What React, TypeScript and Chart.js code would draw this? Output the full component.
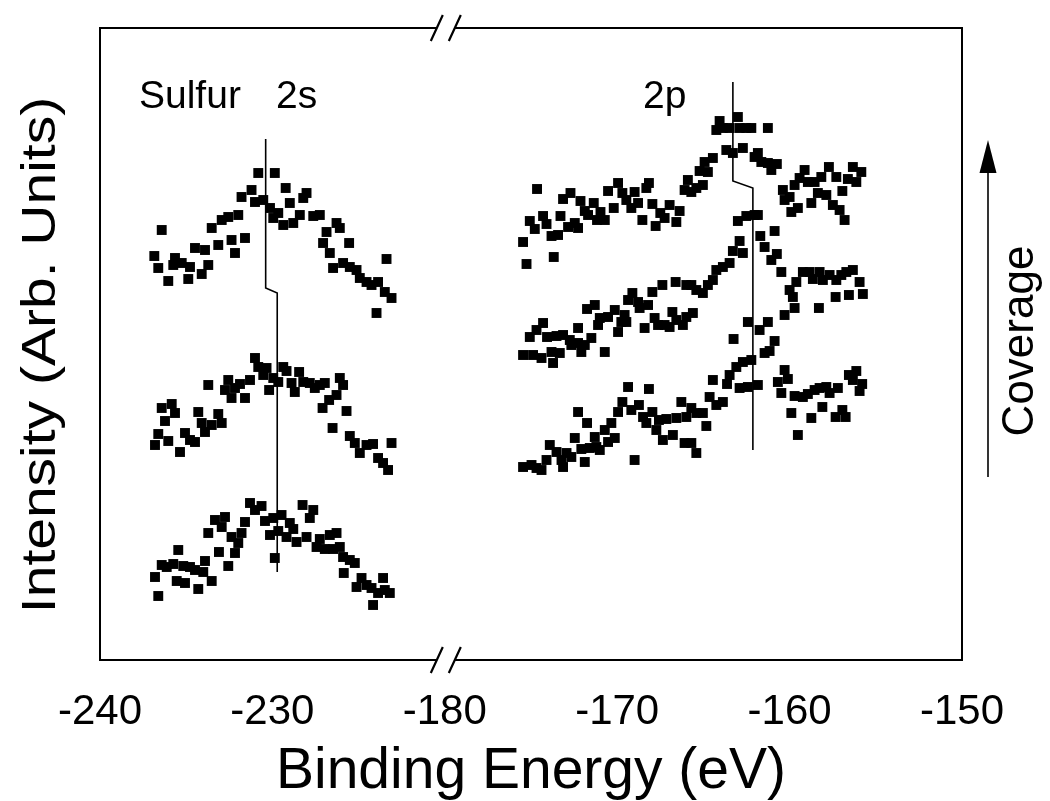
import React, { useEffect, useRef } from 'react';
import { Chart, registerables } from 'chart.js';

Chart.register(...registerables);

// ---- Broken binding-energy axis (eV) ----
const AXIS_MIN = -240;
const BREAK_LOW = -220;
const BREAK_HIGH = -180;
const AXIS_MAX = -150;
const X_TICKS = [-240, -230, -180, -170, -160, -150];
const Y_MIN = 0;
const Y_MAX = 632;

// ---- Sulfur 2s spectra (binding energy eV, intensity arb. units) ----
const S2S_TOP_E = [-236.85, -236.62, -236.42, -236.04, -235.75, -235.65, -235.26, -234.88, -234.78, -234.49, -234.10, -233.91, -233.72, -233.52, -233.14, -232.94, -232.56, -232.37, -232.17, -231.98, -231.59, -231.79, -231.21, -231.01, -230.82, -230.53, -230.14, -229.86, -229.95, -229.66, -229.37, -229.23, -228.99, -228.79, -228.41, -228.21, -228.02, -227.63, -227.25, -226.86, -226.28, -226.09, -227.06, -226.67, -225.55, -226.48, -225.90, -225.51, -225.12, -224.93, -224.54, -224.25, -223.87, -223.38, -223.48, -223.09, -223.96];
const S2S_TOP_I = [404, 392, 430, 379, 395, 402, 397, 381, 393, 412, 386, 410, 395, 432, 415, 440, 443, 420, 407, 445, 422, 463, 470, 458, 487, 460, 452, 487, 442, 447, 435, 472, 457, 437, 445, 462, 467, 444, 445, 428, 437, 432, 417, 407, 417, 392, 397, 393, 390, 382, 378, 375, 378, 401, 368, 362, 347];

const S2S_MID_E = [-236.81, -236.62, -236.42, -236.23, -236.04, -235.84, -235.65, -235.36, -235.07, -234.78, -234.49, -234.30, -234.10, -233.91, -233.72, -233.52, -233.14, -232.94, -232.75, -232.56, -232.37, -232.17, -231.88, -231.59, -231.30, -231.01, -230.82, -230.53, -230.34, -230.19, -229.95, -229.66, -229.37, -229.18, -228.89, -228.70, -228.45, -228.21, -227.83, -227.54, -227.25, -226.96, -227.09, -226.71, -226.28, -226.09, -225.90, -225.70, -226.51, -225.51, -225.22, -224.93, -224.54, -224.16, -223.87, -223.58, -223.29, -223.09];
const S2S_MID_I = [215, 226, 252, 239, 219, 256, 247, 208, 227, 220, 218, 248, 237, 228, 275, 235, 246, 237, 270, 280, 262, 272, 276, 262, 280, 302, 293, 285, 292, 270, 282, 278, 293, 289, 277, 268, 288, 278, 277, 272, 275, 277, 252, 260, 265, 282, 275, 249, 232, 224, 217, 207, 215, 216, 202, 197, 190, 217];

const S2S_BOT_E = [-236.81, -236.62, -236.42, -236.13, -235.75, -235.55, -235.46, -235.17, -235.07, -234.78, -234.49, -234.30, -233.91, -234.01, -233.72, -233.52, -233.33, -233.10, -232.94, -232.75, -232.56, -232.37, -232.17, -231.98, -231.79, -231.59, -231.30, -231.01, -230.63, -230.43, -230.14, -229.95, -229.86, -229.66, -229.47, -229.18, -228.99, -228.79, -228.60, -228.25, -228.02, -227.83, -227.63, -227.44, -227.25, -226.96, -226.67, -226.48, -226.28, -226.09, -225.90, -225.86, -225.51, -225.22, -225.12, -224.83, -224.54, -224.25, -224.16, -223.87, -223.58, -223.48, -223.19];
const S2S_BOT_I = [83, 64, 95, 93, 96, 79, 110, 94, 77, 93, 90, 71, 99, 88, 127, 79, 140, 108, 133, 143, 94, 123, 107, 117, 127, 138, 157, 150, 154, 139, 125, 142, 102, 129, 145, 123, 137, 131, 118, 155, 123, 142, 150, 113, 121, 111, 125, 111, 127, 113, 103, 87, 100, 97, 73, 82, 75, 72, 55, 67, 82, 70, 67];

// ---- Sulfur 2p spectra ----
const S2P_TOP_E = [-175.46, -175.26, -175.07, -174.78, -174.65, -174.30, -174.10, -173.81, -173.68, -173.43, -173.29, -173.14, -172.85, -172.71, -172.46, -172.27, -172.13, -171.88, -171.69, -171.36, -171.17, -170.97, -170.72, -170.53, -170.20, -169.95, -169.70, -169.47, -169.18, -168.99, -168.79, -168.54, -168.31, -168.16, -167.96, -167.77, -167.50, -167.25, -166.96, -166.57, -166.38, -166.09, -165.90, -165.70, -165.41, -165.22, -165.03, -164.93, -164.74, -164.45, -164.25, -164.06, -163.87, -163.67, -163.48, -163.29, -163.00, -162.90, -162.71, -162.51, -162.22, -162.03, -161.84, -161.64, -161.26, -161.26, -161.06, -160.74, -160.39, -160.29, -160.00, -159.90, -159.71, -159.52, -159.42, -159.13, -158.94, -158.74, -158.55, -158.36, -158.16, -157.87, -157.72, -157.49, -157.29, -157.10, -156.94, -156.81, -156.62, -156.33, -156.13, -155.84];
const S2P_TOP_I = [418, 396, 439, 431, 471, 444, 436, 424, 403, 425, 444, 461, 433, 467, 437, 432, 459, 449, 445, 457, 440, 448, 440, 469, 452, 477, 467, 460, 452, 468, 457, 440, 472, 477, 456, 434, 447, 442, 455, 438, 449, 470, 480, 468, 472, 489, 475, 498, 488, 502, 530, 539, 532, 510, 532, 507, 543, 532, 512, 532, 532, 503, 507, 498, 532, 497, 490, 496, 470, 460, 463, 448, 475, 452, 482, 490, 478, 457, 478, 467, 483, 465, 493, 455, 483, 450, 469, 440, 481, 493, 478, 488];

const S2P_MID_E = [-175.46, -175.07, -174.68, -174.88, -174.39, -174.30, -174.07, -173.72, -173.81, -173.33, -173.52, -173.14, -172.75, -172.66, -172.27, -172.27, -172.08, -171.88, -171.50, -171.75, -171.30, -171.11, -171.01, -170.72, -170.53, -170.14, -169.95, -169.76, -169.57, -169.47, -169.37, -169.12, -168.79, -168.70, -168.41, -168.21, -167.96, -167.83, -167.63, -167.38, -167.25, -166.96, -166.80, -166.61, -166.57, -166.19, -165.99, -165.99, -165.70, -165.61, -165.41, -165.03, -164.74, -164.45, -164.25, -163.87, -163.48, -163.29, -162.71, -162.90, -163.00, -162.51, -162.03, -161.84, -161.70, -161.45, -160.87, -161.06, -160.74, -160.48, -160.29, -160.00, -159.81, -159.71, -159.61, -159.23, -158.84, -158.65, -158.30, -158.26, -158.07, -157.68, -157.33, -157.29, -157.00, -156.71, -156.56, -156.33, -155.94, -155.75];
const S2P_MID_I = [305, 323, 330, 305, 302, 337, 323, 297, 308, 307, 324, 325, 320, 315, 332, 317, 308, 315, 322, 351, 355, 335, 342, 308, 343, 350, 328, 338, 345, 338, 360, 367, 358, 352, 332, 355, 368, 342, 335, 375, 335, 333, 348, 378, 340, 335, 375, 343, 375, 347, 370, 367, 375, 380, 390, 393, 397, 409, 407, 419, 439, 444, 445, 445, 424, 413, 429, 400, 406, 388, 345, 370, 363, 352, 378, 388, 388, 381, 352, 388, 380, 385, 363, 380, 385, 388, 365, 390, 378, 366];

const S2P_BOT_E = [-175.46, -174.97, -174.68, -174.39, -174.10, -173.91, -173.52, -173.23, -173.14, -172.94, -172.66, -172.46, -172.27, -172.08, -171.88, -171.75, -171.59, -171.30, -171.21, -171.01, -170.72, -170.53, -170.34, -170.14, -169.95, -169.70, -169.37, -169.18, -168.99, -168.74, -168.50, -168.31, -168.16, -167.96, -167.73, -167.58, -167.35, -167.15, -166.77, -166.57, -166.28, -166.09, -165.99, -165.70, -165.70, -165.41, -165.41, -165.03, -164.83, -164.64, -164.45, -164.25, -163.87, -163.63, -163.48, -163.25, -163.09, -162.90, -162.71, -162.42, -162.42, -162.22, -161.84, -161.74, -161.45, -161.26, -161.16, -160.87, -160.68, -160.48, -160.29, -160.10, -159.90, -159.71, -159.52, -159.23, -158.94, -158.74, -158.55, -158.26, -158.10, -157.87, -157.68, -157.33, -157.20, -156.94, -156.75, -156.56, -156.33, -156.13, -155.94, -155.79];
const S2P_BOT_I = [193, 195, 192, 190, 200, 215, 208, 200, 193, 207, 203, 222, 248, 211, 198, 237, 212, 223, 213, 210, 230, 218, 237, 222, 248, 258, 273, 250, 200, 255, 243, 237, 271, 248, 230, 240, 220, 241, 225, 242, 258, 217, 243, 252, 217, 247, 207, 247, 234, 263, 280, 255, 258, 276, 285, 321, 293, 272, 298, 273, 338, 300, 275, 330, 307, 338, 309, 319, 278, 267, 290, 281, 247, 264, 225, 263, 266, 242, 270, 272, 253, 273, 267, 243, 272, 250, 243, 285, 280, 289, 269, 276];

// ---- Peak-position guide lines ----
const LINE_2S_E = [-230.39, -230.39, -229.72, -229.72];
const LINE_2S_I = [521, 372, 367, 88];
const LINE_2P_E = [-163.29, -163.29, -162.13, -162.13];
const LINE_2P_I = [578, 479, 472, 210];

// ---- Text ----
const X_TITLE = 'Binding Energy (eV)';
const Y_TITLE = 'Intensity (Arb. Units)';
const LABEL_SULFUR = 'Sulfur';
const LABEL_2S = '2s';
const LABEL_2P = '2p';
const LABEL_COVERAGE = 'Coverage';

const FONT = '"Liberation Sans", Arial, Helvetica, sans-serif';
const SEG = (BREAK_LOW - AXIS_MIN) / 10;

function toAxis(e: number): number {
  if (e <= BREAK_LOW) return (e - AXIS_MIN) / 10;
  return SEG + (e - BREAK_HIGH) / 10;
}
function fromAxis(v: number): number {
  if (v < SEG - 1e-9) return AXIS_MIN + v * 10;
  return BREAK_HIGH + (v - SEG) * 10;
}
function pts(es: number[], is: number[]) {
  return es.map((e, k) => ({ x: toAxis(e), y: is[k] }));
}

const decorPlugin = {
  id: 'decor',
  afterDraw(chart: any) {
    const { ctx, chartArea } = chart;
    const { left, right, top, bottom } = chartArea;
    const xs = chart.scales.x;
    const bx = xs.getPixelForValue(toAxis(BREAK_HIGH)) + 1;
    ctx.save();
    ctx.strokeStyle = '#000';
    ctx.fillStyle = '#000';
    ctx.lineWidth = 2;
    ctx.lineCap = 'butt';
    // frame
    ctx.beginPath();
    ctx.moveTo(left, top); ctx.lineTo(left, bottom);
    ctx.moveTo(right, top); ctx.lineTo(right, bottom);
    for (const y of [top, bottom]) {
      ctx.moveTo(left - 1, y); ctx.lineTo(bx - 9, y);
      ctx.moveTo(bx + 9, y); ctx.lineTo(right + 1, y);
    }
    ctx.stroke();
    // break marks
    ctx.lineWidth = 2.2;
    ctx.beginPath();
    for (const y of [top, bottom]) {
      for (const dx of [-9, 9]) {
        ctx.moveTo(bx + dx - 6, y + 13);
        ctx.lineTo(bx + dx + 6, y - 13);
      }
    }
    ctx.stroke();

    // coverage arrow
    const ax = 988;
    ctx.lineWidth = 1.6;
    ctx.beginPath();
    ctx.moveTo(ax, 477); ctx.lineTo(ax, 168);
    ctx.stroke();
    ctx.beginPath();
    ctx.moveTo(ax, 140); ctx.lineTo(ax - 8.5, 173); ctx.lineTo(ax + 8.5, 173);
    ctx.closePath();
    ctx.fill();

    // labels
    ctx.textBaseline = 'middle';
    ctx.textAlign = 'left';
    ctx.font = `39px ${FONT}`;
    ctx.fillText(LABEL_SULFUR, 139, 97);
    ctx.fillText(LABEL_2S, 276, 97);
    ctx.fillText(LABEL_2P, 643, 97);

    // y-axis title (slightly condensed across, as in the original)
    ctx.save();
    ctx.translate(42, 355);
    ctx.rotate(-Math.PI / 2);
    ctx.scale(1, 0.85);
    ctx.textAlign = 'center';
    ctx.font = `57px ${FONT}`;
    ctx.fillText(Y_TITLE, 0, 0);
    ctx.restore();

    ctx.save();
    ctx.translate(1021, 341);
    ctx.rotate(-Math.PI / 2);
    ctx.textAlign = 'center';
    ctx.font = `44px ${FONT}`;
    ctx.fillText(LABEL_COVERAGE, 0, 0);
    ctx.restore();
    ctx.restore();
  },
};

export default function App() {
  const ref = useRef<HTMLCanvasElement | null>(null);
  useEffect(() => {
    if (!ref.current) return;
    const scatter = (es: number[], is: number[]) => ({
      type: 'scatter' as const,
      data: pts(es, is),
      pointStyle: 'rect' as const,
      pointRadius: 7,
      pointHoverRadius: 7,
      backgroundColor: '#000',
      borderColor: '#000',
      borderWidth: 0,
      showLine: false,
    });
    const guide = (es: number[], is: number[]) => ({
      type: 'scatter' as const,
      data: pts(es, is),
      showLine: true,
      borderColor: '#000',
      borderWidth: 1.6,
      pointRadius: 0,
      pointHoverRadius: 0,
      fill: false,
      tension: 0,
    });
    const chart = new Chart(ref.current, {
      type: 'scatter',
      data: {
        datasets: [
          scatter(S2S_TOP_E, S2S_TOP_I),
          scatter(S2S_MID_E, S2S_MID_I),
          scatter(S2S_BOT_E, S2S_BOT_I),
          scatter(S2P_TOP_E, S2P_TOP_I),
          scatter(S2P_MID_E, S2P_MID_I),
          scatter(S2P_BOT_E, S2P_BOT_I),
          guide(LINE_2S_E, LINE_2S_I),
          guide(LINE_2P_E, LINE_2P_I),
        ] as any,
      },
      options: {
        animation: false,
        responsive: false,
        events: [],
        layout: { padding: { top: 28, right: 88, left: 0, bottom: 0 } },
        plugins: { legend: { display: false }, tooltip: { enabled: false } },
        scales: {
          x: {
            type: 'linear',
            min: toAxis(AXIS_MIN),
            max: toAxis(AXIS_MAX),
            afterBuildTicks: (s: any) => {
              s.ticks = X_TICKS.map((e) => ({ value: toAxis(e) }));
            },
            afterFit: (s: any) => { s.height = 141; },
            grid: { display: false, drawTicks: false },
            border: { display: false },
            ticks: {
              callback: (v: any) => String(Math.round(fromAxis(Number(v)))),
              font: { family: FONT, size: 42 },
              color: '#000',
              padding: 27,
              maxRotation: 0,
              autoSkip: false,
            },
            title: {
              display: true,
              text: X_TITLE,
              font: { family: FONT, size: 57, lineHeight: 1 },
              color: '#000',
              padding: { top: 0, bottom: 0 },
            },
          },
          y: {
            type: 'linear',
            min: Y_MIN,
            max: Y_MAX,
            afterFit: (s: any) => { s.width = 100; },
            grid: { display: false },
            border: { display: false },
            ticks: { display: false },
            title: { display: false, text: Y_TITLE },
          },
        },
      },
      plugins: [decorPlugin],
    } as any);
    return () => chart.destroy();
  }, []);
  return (
    <div style={{ position: 'absolute', left: 0, top: 0, width: 1050, height: 801, background: '#fff' }}>
      <canvas ref={ref} width={1050} height={801} style={{ display: 'block', width: 1050, height: 801 }} />
    </div>
  );
}
